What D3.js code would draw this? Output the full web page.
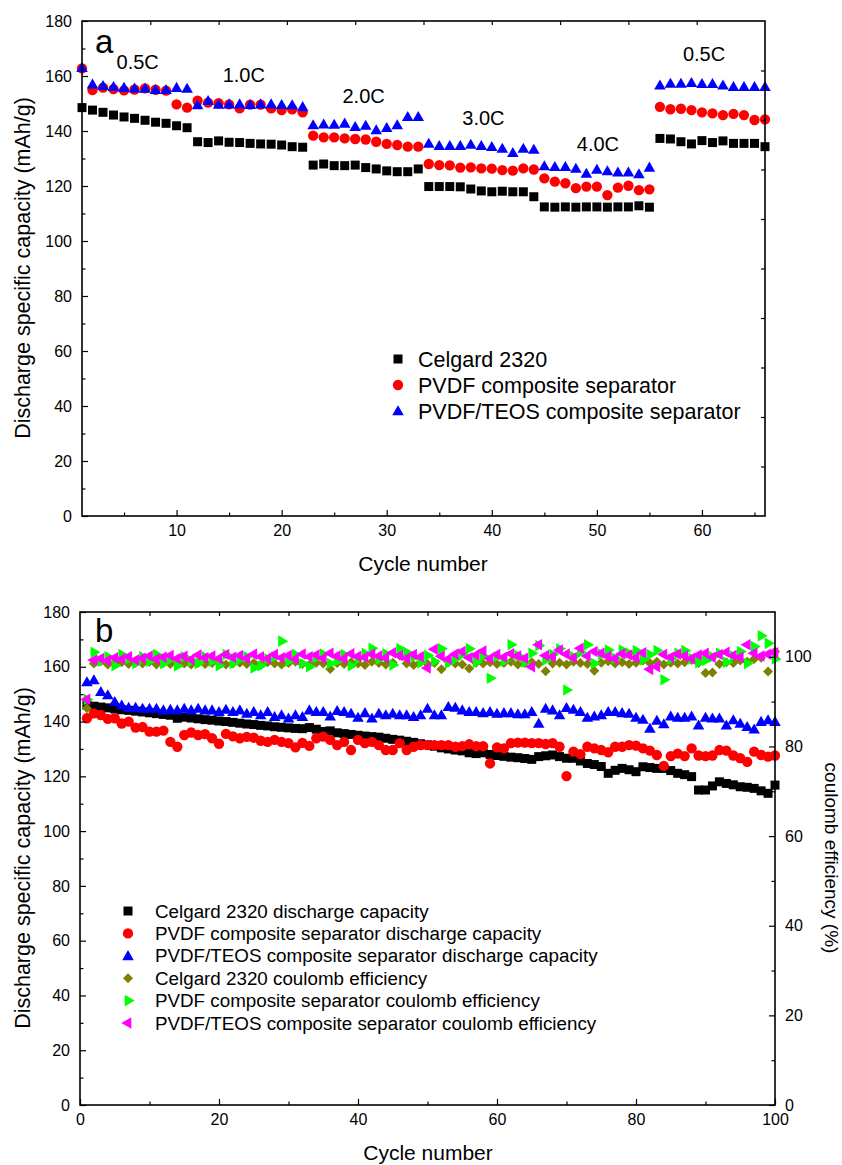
<!DOCTYPE html>
<html><head><meta charset="utf-8">
<script src="https://cdn.jsdelivr.net/npm/d3@7"></script>
<style>body{margin:0;background:#fff}svg{display:block}text{font-family:"Liberation Sans",Arial,sans-serif;fill:#000}</style>
</head><body>
<script>
// ---------- Panel a data ----------
const cyclesA = d3.range(1, 67);
const celgardA = [148.5,147.6,146.8,145.8,145.1,144.6,143.9,143.2,142.8,141.9,141.2,
 136.1,135.8,136.4,135.9,135.8,135.5,135.3,135.2,134.9,134.3,134.1,
 127.6,128,127.4,127.4,127.6,126.7,126.2,125.5,125.2,125.2,126.2,
 119.8,119.8,119.8,119.7,118.9,118.2,117.9,118.1,117.9,117.9,116.1,
 112.4,112.3,112.4,112.3,112.4,112.4,112.3,112.4,112.4,112.8,112.3,
 137.3,137.1,136.1,135.3,136.5,135.8,136.4,135.5,135.5,135.5,134.3];
const pvdfA = [162.8,154.9,155.8,155.2,154.8,155.1,155.5,155,154.7,149.7,148.5,
 151,150.3,150.1,149.7,148.2,149.6,149.6,148.2,147.6,147.9,146.8,
 138.3,137.7,137.7,137.3,137.1,136.9,136.1,135.3,134.9,134.3,134.3,
 128,127.6,127.5,126.7,126.8,126.4,126.3,125.8,125.6,126.4,126,
 122.8,121.6,121,119.2,119.8,119.8,116.7,119.4,120.1,118.5,118.8,
 148.8,147.9,148.1,147.6,146.8,146.4,145.8,146.2,145.8,144,144.2];
const teosA = [163,157,156.5,156.1,155.8,155.6,155.5,155,155,155.8,155.5,
 149.5,151,149.7,149.8,149.8,149.6,149.8,149.8,149.6,149.5,148.8,
 142.2,142.5,142.4,142.8,141.6,142,140.4,141.2,142.2,145.2,145.2,
 135.5,134.7,134.7,134.7,135.1,134.7,134.3,133.7,132.1,133.7,133.3,
 127.3,127,127,126.4,124.6,126,125.5,125,125,124.4,126.8,
 156.7,157.3,157.3,157.6,157.2,157.2,156.7,156.1,156.1,156.1,156.1];
const rateLabels = ["0.5C","1.0C","2.0C","3.0C","4.0C","0.5C"];
const rateCycle = [6.3,16.4,27.8,39.2,50.1,60.2];
const rateValue = [162.4,157.9,150.3,142.3,132.7,165.6];
const legendA = ["Celgard 2320","PVDF composite separator","PVDF/TEOS composite separator"];
const yTicksA = d3.range(0, 181, 20);
const xTicksA = [10,20,30,40,50,60];

// ---------- Panel b data ----------
const cyclesB = d3.range(1, 101);
const celgardB = [146,145.6,145.3,145,144.6,144.3,144.1,143.8,143.5,143.2,
 142.9,142.6,142.3,141.2,141.6,141.3,141,140.7,140.5,140.2,
 140,139.7,139.4,139.1,138.9,138.6,138.4,138.1,137.9,137.7,
 137.5,137.4,137.8,137.2,136.4,136.6,135.9,135.6,135.3,135,
 134.7,134.5,134.3,133.9,133.5,133.2,132.8,132.4,131.9,131.5,
 131,130.4,130,129.6,129.3,128.6,128.3,128.6,128,127.6,
 127.3,127,126.8,126.5,126.2,127.2,127.5,127.8,127.2,126.6,
 126.6,125.6,124.7,124.3,123.6,121.1,122.2,122.9,122.4,121.7,
 123.5,123.2,122.9,122.9,122.1,121.1,120.6,119.9,115,115,
 116.5,118,117.4,116.9,116.2,116,115.6,114.7,113.8,116.8];
const pvdfB = [141.2,143,142.4,141,141.2,139.3,140,137.8,138,136.3,
 136.3,136.7,132.6,130.8,135.1,136,135.1,135.4,133.9,131.9,
 135.5,134.6,133.9,134.4,134.1,133,132.6,133.3,132.6,132.1,
 130.6,132.2,131.1,133.9,134.5,133.3,131.4,132.6,129.6,133.3,
 132.1,132.6,131.4,129.6,129.6,132.1,129.6,130.8,131.4,131.4,
 131.4,131.4,131.4,130.8,131,131.7,131,131,124.7,130.6,
 130.2,132.1,132.3,132.3,132.1,132.1,131.8,132.1,130.8,120.1,
 129,128.1,130.8,130.2,129.6,128.8,130.8,130.8,131.4,131.2,
 130.2,129.4,127.8,123.8,127.4,128.3,127.4,130.2,127.6,127.4,
 127.6,129.6,129.4,127.6,126.6,125.3,129,127.8,127.2,127.6];
const teosB = [154.5,155.2,150.9,149.7,147.3,146,145.2,145.2,144.8,144.8,
 144.8,144.2,144.4,144.2,144.8,144.2,144.8,144.2,144.2,143.6,
 144.4,143.6,144.2,143,143.6,142.4,143.6,141.8,142.4,141.2,
 142.4,141.8,144.2,143.6,143.6,142,144,143.6,143,141.5,
 143.2,141.2,143,142.4,143,142.4,142.4,141.8,142.4,144.8,
 142.4,142.4,145.4,145.2,144.2,143.6,143.6,143.2,143.6,143,
 143.2,143.2,142.8,142.8,143.6,139.3,144.8,144.2,142.4,145.1,
 144.4,143.6,141.5,142,142.4,143.6,143.6,143.2,143,141.5,
 140.8,137.5,140.4,139.1,142,141.5,141.5,142,138.7,141.5,
 141.2,141.2,138.7,140.6,139.3,138.1,137.2,140,140.6,140];
const celgardCE = [88.5,98.5,99,98.3,98.6,98.8,98.4,98.7,98.5,98.9,
 98.3,98.6,98.4,98.8,98.5,98.3,98.7,98.4,98.6,98.9,
 98.3,98.5,98.7,98.4,98.6,98.2,98.8,98.5,98.3,98.6,
 98.9,98.4,98.2,98.7,98.5,97.3,98.6,98.4,98.8,98.5,
 98.2,98.9,98.6,98.3,98.7,100.3,98.5,98.2,98.8,98.4,
 98.6,97.2,98.9,98.5,98.3,97.4,98.7,98.5,98.8,98.4,
 98.6,98.9,98.3,98.6,98.8,98.4,96.8,98.5,98.7,98.3,
 98.9,98.6,98.4,96.9,98.7,99,98.5,98.8,98.4,98.7,
 99.2,98.6,98.9,98.3,98.7,98.5,98.8,99.3,98.6,96.4,
 96.5,98.4,98.8,98.6,99.2,98.9,99.5,99.8,96.7,101.2];
const pvdfCE = [90.5,101,99,100,98,100.5,99.5,98.5,100,99,
 100.5,98.5,99.5,98,100,99,98.5,100,99,98,
 100.5,98.5,99.5,100,97.5,98,99.5,100,103.5,99,
 100.5,98.5,97.8,99.8,100.6,98.5,99,100.5,98,99.5,
 100.8,101.9,99.4,100.7,98.2,101.8,101,100,98.7,100.3,
 99,101.8,98.6,99.5,100.6,101.8,98.8,100.2,95.2,100,
 99,102.7,100.3,98.8,100.8,102.5,99.3,100.5,101.8,92.6,
 100,101,102.7,98.5,100.6,101.5,99.7,101.5,100.8,101.4,
 99.3,100.5,101.4,94.9,99.5,100.8,101.4,99.6,98.7,99.2,
 100,100.8,98.8,100.2,101.2,98.5,102.3,104.7,103,99.5];
const teosCE = [90.5,99.3,99.6,99.2,99.8,99.5,100,99.3,99.7,100.2,
 99.5,99.9,100.3,99.6,100.1,99.4,100.4,99.8,100.2,99.6,
 100.5,99.9,100.3,99.7,100.6,100,99.6,100.5,99.8,100.3,
 99.5,100.6,100,100.4,99.7,100.8,100.2,99.6,100.7,100.1,
 99.9,100.6,100.2,99.8,100.9,100.3,99.7,100.5,100,97.5,
 101.7,100.1,99.5,100.6,101.2,99.8,100.4,101.3,99.6,100.5,
 99.9,100.7,100.2,99.7,97.8,102.7,100.3,100,101.5,100.6,
 99.8,101.9,100.2,101.2,100.8,100.1,99.6,100.7,100.4,99.8,
 100.9,97.2,97.8,100.5,99.9,100.6,100.2,99.6,100.4,100.8,
 99.9,100.5,101,100.3,99.9,102.7,100.8,100.2,100.6,100.9];
const legendB = ["Celgard 2320 discharge capacity","PVDF composite separator discharge capacity",
 "PVDF/TEOS composite separator discharge capacity","Celgard 2320 coulomb efficiency",
 "PVDF composite separator coulomb efficiency","PVDF/TEOS composite separator coulomb efficiency"];
const yTicksB = d3.range(0, 181, 20);
const yTicksR = [0,20,40,60,80,100];
const xTicksB = [0,20,40,60,80,100];

// ---------- drawing ----------
const W = 842, H = 1165;
const svg = d3.select("body").append("svg").attr("width", W).attr("height", H);

const symSquare = d3.symbol().type(d3.symbolSquare).size(81);
const symCircle = d3.symbol().type(d3.symbolCircle).size(84);
const symTri = d3.symbol().type(d3.symbolTriangle).size(58);
const symDiamond = d3.symbol().type(d3.symbolSquare).size(50);

function marker(g, kind, color, x, y) {
  let p;
  if (kind === "square") p = g.append("path").attr("d", symSquare()).attr("transform", `translate(${x},${y})`);
  else if (kind === "circle") p = g.append("path").attr("d", symCircle()).attr("transform", `translate(${x},${y})`);
  else if (kind === "tri") p = g.append("path").attr("d", symTri()).attr("transform", `translate(${x},${y+1})`);
  else if (kind === "diamond") p = g.append("path").attr("d", symDiamond()).attr("transform", `translate(${x},${y}) rotate(45)`);
  else if (kind === "right") p = g.append("path").attr("d", symTri()).attr("transform", `translate(${x},${y}) rotate(90)`);
  else if (kind === "left") p = g.append("path").attr("d", symTri()).attr("transform", `translate(${x},${y}) rotate(-90)`);
  p.attr("fill", color);
}

function series(g, xs, ys, xScale, yScale, kind, color) {
  const gg = g.append("g");
  xs.forEach((c, i) => marker(gg, kind, color, xScale(c), yScale(ys[i])));
}

function frameAndAxes(opt) {
  const {x, y, xTicks, xMinor, yTicks, yMinor, topScale, topTicks, rightScale, rightTicks, rightMinor, rightLabels} = opt;
  const g = svg.append("g");
  const [x0, x1] = x.range(), [y0, y1] = y.range();
  g.append("g").attr("transform", `translate(0,${y0})`)
    .call(d3.axisBottom(x).tickValues(xTicks).tickSize(-6).tickPadding(9).tickFormat(d3.format("d")));
  g.append("g").attr("transform", `translate(0,${y0})`)
    .call(d3.axisBottom(x).tickValues(xMinor).tickSize(-3.5).tickFormat(""));
  g.append("g").attr("transform", `translate(${x0},0)`)
    .call(d3.axisLeft(y).tickValues(yTicks).tickSize(-6).tickPadding(10).tickFormat(d3.format("d")));
  g.append("g").attr("transform", `translate(${x0},0)`)
    .call(d3.axisLeft(y).tickValues(yMinor).tickSize(-3.5).tickFormat(""));
  g.append("g").attr("transform", `translate(0,${y1})`)
    .call(d3.axisTop(topScale).tickValues(topTicks).tickSize(-4).tickFormat(""));
  g.append("g").attr("transform", `translate(${x1},0)`)
    .call(d3.axisRight(rightScale).tickValues(rightTicks).tickSize(rightLabels ? -6 : -4).tickPadding(10)
      .tickFormat(rightLabels ? d3.format("d") : ""));
  if (rightMinor) g.append("g").attr("transform", `translate(${x1},0)`)
    .call(d3.axisRight(rightScale).tickValues(rightMinor).tickSize(-3.5).tickFormat(""));
  g.selectAll(".domain").remove();
  g.selectAll(".tick line").attr("stroke", "#000").attr("stroke-width", 1.2);
  g.selectAll(".tick text").attr("font-size", 16).attr("font-family", '"Liberation Sans",Arial,sans-serif').attr("fill", "#000");
  g.append("rect").attr("x", x0).attr("y", y1).attr("width", x1 - x0).attr("height", y0 - y1)
    .attr("fill", "none").attr("stroke", "#000").attr("stroke-width", 1.6);
  return g;
}

// ===== Panel a =====
const xA = d3.scaleLinear([1, 66], [82, 765]);
const yA = d3.scaleLinear([0, 180], [516, 21]);
const gA = svg.append("g");
series(gA, cyclesA, celgardA, xA, yA, "square", "#000");
series(gA, cyclesA, pvdfA, xA, yA, "circle", "#ff0000");
series(gA, cyclesA, teosA, xA, yA, "tri", "#0000ff");
frameAndAxes({
  x: xA, y: yA, xTicks: xTicksA, xMinor: [5,15,25,35,45,55,65],
  yTicks: yTicksA, yMinor: d3.range(10, 180, 20),
  topScale: d3.scaleLinear([0, 10], [82, 765]), topTicks: d3.range(1, 10),
  rightScale: d3.scaleLinear([0, 10], [516, 21]), rightTicks: d3.range(1, 10), rightLabels: false
});
rateLabels.forEach((t, i) => {
  gA.append("text").attr("x", xA(rateCycle[i])).attr("y", yA(rateValue[i]))
    .attr("text-anchor", "middle").attr("font-size", 20).text(t);
});
svg.append("text").attr("x", 95).attr("y", 53).attr("font-size", 33).text("a");
legendA.forEach((t, i) => {
  const ly = 359 + i * 26;
  marker(svg, ["square","circle","tri"][i], ["#000","#ff0000","#0000ff"][i], 398, ly);
  svg.append("text").attr("x", 418).attr("y", ly).attr("dy", "0.35em").attr("font-size", 21.5).text(t);
});
svg.append("text").attr("transform", "translate(22,268) rotate(-90)").attr("text-anchor", "middle")
  .attr("dy", "0.35em").attr("font-size", 21.5).text("Discharge specific capacity (mAh/g)");
svg.append("text").attr("x", 423).attr("y", 571).attr("text-anchor", "middle").attr("font-size", 21).text("Cycle number");

// ===== Panel b =====
const xB = d3.scaleLinear([0, 100], [80, 775]);
const yB = d3.scaleLinear([0, 180], [1105, 612]);
const yR = d3.scaleLinear([0, 110], [1105, 612]);
const gB = svg.append("g");
series(gB, cyclesB, celgardB, xB, yB, "square", "#000");
series(gB, cyclesB, pvdfB, xB, yB, "circle", "#ff0000");
series(gB, cyclesB, teosB, xB, yB, "tri", "#0000ff");
series(gB, cyclesB, celgardCE, xB, yR, "diamond", "#808000");
series(gB, cyclesB, pvdfCE, xB, yR, "right", "#00ff00");
series(gB, cyclesB, teosCE, xB, yR, "left", "#ff00ff");
frameAndAxes({
  x: xB, y: yB, xTicks: xTicksB, xMinor: [10,30,50,70,90],
  yTicks: yTicksB, yMinor: d3.range(10, 180, 20),
  topScale: xB, topTicks: d3.range(10, 100, 10),
  rightScale: yR, rightTicks: yTicksR, rightMinor: [10,30,50,70,90], rightLabels: true
});
svg.append("text").attr("x", 95).attr("y", 642).attr("font-size", 33).text("b");
const kindsB = ["square","circle","tri","diamond","right","left"];
const colorsB = ["#000","#ff0000","#0000ff","#808000","#00ff00","#ff00ff"];
legendB.forEach((t, i) => {
  const ly = 911 + i * 22.4;
  marker(svg, kindsB[i], colorsB[i], 128, ly);
  svg.append("text").attr("x", 155).attr("y", ly).attr("dy", "0.35em").attr("font-size", 18.8).text(t);
});
svg.append("text").attr("transform", "translate(22,858) rotate(-90)").attr("text-anchor", "middle")
  .attr("dy", "0.35em").attr("font-size", 21.5).text("Discharge specific capacity (mAh/g)");
svg.append("text").attr("transform", "translate(832,858) rotate(90)").attr("text-anchor", "middle")
  .attr("dy", "0.35em").attr("font-size", 19).text("coulomb efficiency (%)");
svg.append("text").attr("x", 428).attr("y", 1160).attr("text-anchor", "middle").attr("font-size", 21).text("Cycle number");
</script>
</body></html>
